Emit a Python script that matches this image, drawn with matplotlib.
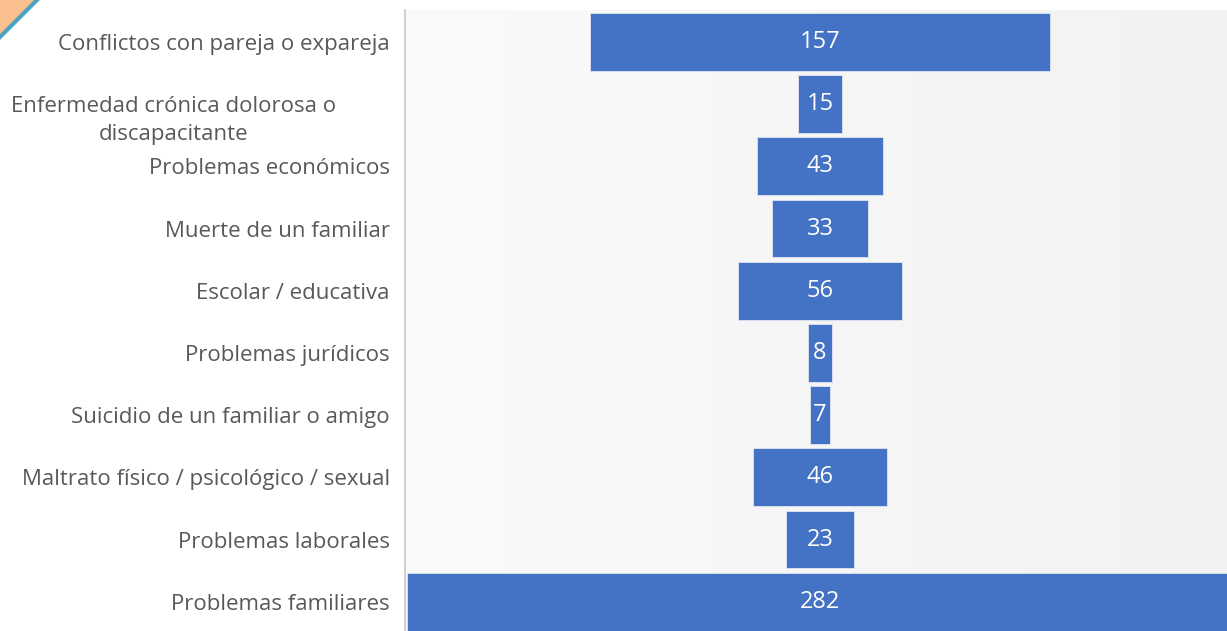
import matplotlib
matplotlib.use("Agg")
import matplotlib.pyplot as plt
import numpy as np
from matplotlib.patches import Polygon
from matplotlib.transforms import blended_transform_factory
from matplotlib.colors import LinearSegmentedColormap

categories = [
    "Conflictos con pareja o expareja",
    "Enfermedad crónica dolorosa o\ndiscapacitante",
    "Problemas económicos",
    "Muerte de un familiar",
    "Escolar / educativa",
    "Problemas jurídicos",
    "Suicidio de un familiar o amigo",
    "Maltrato físico / psicológico / sexual",
    "Problemas laborales",
    "Problemas familiares",
]
values = [157, 15, 43, 33, 56, 8, 7, 46, 23, 282]

plt.rcParams['font.family'] = ['Open Sans', 'DejaVu Sans']

W, H = 1227, 631
fig = plt.figure(figsize=(W / 100, H / 100), dpi=100)
fig.patch.set_facecolor('white')
ax = fig.add_axes([405 / W, 0, 822 / W, 621 / H])

# background gradient
grad = np.linspace(0, 1, 256).reshape(1, -1)
cmap = LinearSegmentedColormap.from_list('bg', ['#fafafa', '#f2f2f2'])
ax.imshow(grad, extent=[0, 1, 0, 1], transform=ax.transAxes, cmap=cmap,
          aspect='auto', zorder=0)

y = np.arange(len(values))
vals = np.array(values, dtype=float)
ax.barh(y, vals, left=-vals / 2, height=0.93, color='#4472C4',
        edgecolor='#dfe5f2', linewidth=0.6, zorder=2)

for yi, v in zip(y, values):
    ax.text(0, yi, str(v), ha='center', va='center', color='white',
            fontsize=17, zorder=3)

ax.set_xlim(-141.6, 138.9)
ax.set_ylim(9.47, -0.514)

ax.set_yticks(y)
labels = [c if '\n' not in c else '' for c in categories]
ax.set_yticklabels(labels, fontsize=16, color='#595959')
ax.tick_params(axis='y', length=0, pad=11)
ax.set_xticks([])

# wrapped label, placed as in the original
trans = blended_transform_factory(ax.transAxes, ax.transData)
for yi, c in zip(y, categories):
    if '\n' in c:
        ax.text(-(405 - 174) / 822, yi + 0.26, c, transform=trans, ha='center',
                va='center', multialignment='center', fontsize=16,
                color='#595959', linespacing=1.4, clip_on=False)

for s in ['top', 'right', 'bottom']:
    ax.spines[s].set_visible(False)
ax.spines['left'].set_color('#d0d0d0')
ax.spines['left'].set_linewidth(1.5)
ax.spines['left'].set_zorder(4)

# decorative corner
fig.patches.append(Polygon([[0, 1], [36 / W, 1], [0, 1 - 36 / H]], closed=True,
                           transform=fig.transFigure, facecolor='#f9c08e',
                           edgecolor='none'))
fig.lines.append(plt.Line2D([37 / W, 0], [1, 1 - 37 / H], transform=fig.transFigure,
                            color='#4aa5c5', linewidth=3))

fig.savefig('out.png', dpi=100)
